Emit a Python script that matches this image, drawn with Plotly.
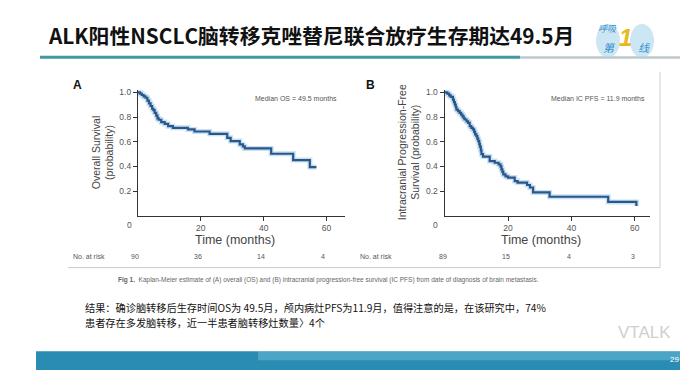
import plotly.graph_objects as go

# ---------------- data ----------------
os_time = [0, 0.6, 1.2, 1.8, 2.4, 3.0, 3.5, 4.0, 4.5, 4.9, 5.3, 5.8, 6.2, 6.6, 7.4, 8.5, 9.6,
           11.1, 15.9, 18.0, 22.8, 28.4, 29.5, 32.4, 33.4, 34.0, 42.4, 49.4, 54.7, 56.8]
os_surv = [1.0, 0.989, 0.978, 0.967, 0.956, 0.933, 0.911, 0.889, 0.867, 0.856, 0.834, 0.811,
           0.789, 0.778, 0.758, 0.744, 0.726, 0.713, 0.70, 0.683, 0.664, 0.632, 0.605, 0.578,
           0.562, 0.546, 0.503, 0.452, 0.395, 0.395]

pfs_time = [0, 0.8, 1.4, 1.9, 2.6, 2.9, 3.2, 3.5, 3.7, 4.2, 4.7, 5.2, 5.6, 6.0, 6.3, 6.9, 7.4,
            7.9, 8.4, 8.9, 9.3, 9.6, 10.0, 10.3, 10.6, 10.9, 11.1, 11.4, 11.6, 12.1, 14.2, 15.8,
            17.0, 17.6, 17.9, 18.2, 18.5, 19.2, 20.0, 22.1, 23.0, 26.0, 26.9, 27.9, 33.1, 51.6, 60.5]
pfs_surv = [1.0, 0.989, 0.975, 0.963, 0.94, 0.92, 0.90, 0.88, 0.86, 0.847, 0.834, 0.82, 0.806,
            0.79, 0.78, 0.765, 0.753, 0.726, 0.712, 0.70, 0.68, 0.66, 0.645, 0.625, 0.605, 0.583,
            0.56, 0.53, 0.50, 0.48, 0.444, 0.43, 0.417, 0.40, 0.376, 0.356, 0.336, 0.32, 0.31,
            0.282, 0.27, 0.25, 0.23, 0.19, 0.155, 0.113, 0.08]

risk_times = [0, 20, 40, 60]
os_at_risk = [90, 36, 14, 4]
pfs_at_risk = [89, 15, 4, 3]

x_ticks = [20, 40, 60]
y_ticks = [0.2, 0.4, 0.6, 0.8, 1.0]

title_text = "ALK阳性NSCLC脑转移克唑替尼联合放疗生存期达49.5月"
result_line1 = "结果：确诊脑转移后生存时间OS为 49.5月，颅内病灶PFS为11.9月，值得注意的是，在该研究中，74%"
result_line2 = "患者存在多发脑转移，近一半患者脑转移灶数量〉4个"
caption = ("<b>Fig 1.</b>  Kaplan-Meier estimate of (A) overall (OS) and (B) intracranial "
           "progression-free survival (IC PFS) from date of diagnosis of brain metastasis.")

# ---------------- layout helpers ----------------
W, H = 688, 378


def fx(p):
    return p / W


def fy(p):
    return 1 - p / H


CJK = "Noto Sans CJK SC"
NARROW = "Liberation Sans Narrow, Liberation Sans, Arial"
SANS = "Liberation Sans, Arial"

fig = go.Figure()

for t, s, xa, ya in [(os_time, os_surv, "x", "y"), (pfs_time, pfs_surv, "x2", "y2")]:
    fig.add_trace(go.Scatter(x=t, y=s, mode="lines", xaxis=xa, yaxis=ya,
                             line=dict(shape="hv", color="rgba(150,200,235,0.55)", width=5),
                             hoverinfo="skip", showlegend=False))
    fig.add_trace(go.Scatter(x=t, y=s, mode="lines", xaxis=xa, yaxis=ya,
                             line=dict(shape="hv", color="#2c5687", width=2.2),
                             showlegend=False))

xcommon = dict(showline=True, linecolor="#333", linewidth=1.3, tickvals=x_ticks,
               ticks="outside", ticklen=4, tickcolor="#333", tickwidth=1,
               tickfont=dict(size=8.5, color="#555", family=SANS),
               showgrid=False, zeroline=False, fixedrange=True)
ycommon = dict(showline=True, linecolor="#333", linewidth=1.3, tickvals=y_ticks,
               tickformat=".1f", ticks="outside", ticklen=4, tickcolor="#333", tickwidth=1,
               tickfont=dict(size=8.5, color="#555", family=SANS),
               showgrid=False, zeroline=False, fixedrange=True, range=[0, 1.022],
               domain=[fy(207), fy(80)])

fig.update_layout(
    width=W, height=H, autosize=False,
    margin=dict(l=0, r=0, t=0, b=0),
    paper_bgcolor="white", plot_bgcolor="white",
    xaxis=dict(domain=[fx(130), fx(337)], range=[0, 65.9], anchor="y", **xcommon),
    yaxis=dict(anchor="x", **ycommon),
    xaxis2=dict(domain=[fx(436.7), fx(641.7)], range=[0, 64.7], anchor="y2", **xcommon),
    yaxis2=dict(anchor="x2", **ycommon),
)

shapes = []
# title underline
shapes.append(dict(type="rect", xref="paper", yref="paper", x0=fx(32), x1=fx(512), y0=fy(49), y1=fy(46),
                   fillcolor="#3f98a3", line=dict(width=0)))
shapes.append(dict(type="rect", xref="paper", yref="paper", x0=fx(512), x1=fx(672), y0=fy(49), y1=fy(46.5),
                   fillcolor="#bcc8cc", line=dict(width=0)))
# figure frame
shapes.append(dict(type="line", xref="paper", yref="paper", x0=fx(652), x1=fx(652), y0=fy(259), y1=fy(62),
                   line=dict(color="#d0d0d0", width=1)))
shapes.append(dict(type="line", xref="paper", yref="paper", x0=fx(60), x1=fx(652), y0=fy(259), y1=fy(259),
                   line=dict(color="#c8c8c8", width=1)))
# footer band
shapes.append(dict(type="rect", xref="paper", yref="paper", x0=fx(28), x1=fx(688), y0=fy(362), y1=fy(343),
                   fillcolor="#2a8bb3", line=dict(width=0)))
shapes.append(dict(type="rect", xref="paper", yref="paper", x0=fx(250), x1=fx(688), y0=fy(352), y1=fy(343),
                   fillcolor="rgba(140,215,235,0.35)", line=dict(width=0)))
# logo blobs
shapes.append(dict(type="circle", xref="paper", yref="paper", x0=fx(588), x1=fx(612), y0=fy(48), y1=fy(14),
                   fillcolor="rgba(170,215,235,0.6)", line=dict(width=0)))
shapes.append(dict(type="circle", xref="paper", yref="paper", x0=fx(622), x1=fx(646), y0=fy(48), y1=fy(14),
                   fillcolor="rgba(170,215,235,0.6)", line=dict(width=0)))
fig.update_layout(shapes=shapes)

ann = []


def add(text, x, y, size, color="#333", family=SANS, xanchor="center", yanchor="middle", **kw):
    ann.append(dict(text=text, x=x, y=y, xref=kw.pop("xref", "paper"), yref=kw.pop("yref", "paper"),
                    showarrow=False, xanchor=xanchor, yanchor=yanchor,
                    font=dict(size=size, color=color, family=family), **kw))


# title
add("<b>" + title_text + "</b>", fx(38), fy(25), 20.8, "#111", CJK, xanchor="left")
# logo text
add("<i>呼吸</i>", fx(588), fy(19), 9, "#3a8fd0", CJK, xanchor="left")
add("<i>第</i>", fx(601), fy(37), 11, "#3a8fd0", CJK)
add("<i><b>1</b></i>", fx(617), fy(28), 24, "#e8b820", SANS)
add("<i>线</i>", fx(636), fy(37), 11, "#3a8fd0", CJK)

# panel letters
add("<b>A</b>", fx(69), fy(75), 12, "#111", SANS)
add("<b>B</b>", fx(362), fy(75), 12, "#111", SANS)

# y titles
add("Overall Survival<br>(probability)", fx(95), fy(143), 10.5, "#444", NARROW, textangle=-90)
add("Intracranial Progression-Free<br>Survival (probability)", fx(401), fy(143), 10.5, "#444", NARROW,
    textangle=-90)

# "0" tick labels (offset left of axis)
add("0", fx(121.7), fy(216), 8.5, "#555", SANS)
add("0", fx(427), fy(216), 8.5, "#555", SANS)

# x titles
add("Time (months)", fx(226.7), fy(231), 12.5, "#444", NARROW)
add("Time (months)", fx(533), fy(231), 12.5, "#444", NARROW)

# median text
add("Median OS = 49.5 months", fx(288), fy(89), 7, "#555", SANS)
add("Median IC PFS = 11.9 months", fx(590), fy(89), 7, "#555", SANS)

# numbers at risk
add("No. at risk", fx(63), fy(248), 7, "#555", SANS, xanchor="left")
add("No. at risk", fx(368), fy(248), 7, "#555", SANS, xanchor="center")
for t, n in zip(risk_times, os_at_risk):
    add(str(n), t, fy(248), 7, "#555", SANS, xref="x", xshift=-3)
for t, n in zip(risk_times, pfs_at_risk):
    add(str(n), t, fy(248), 7, "#555", SANS, xref="x2", xshift=-2)

# caption
add(caption, fx(320), fy(271), 6.5, "#666", SANS)

# result text
add(result_line1, fx(75), fy(299.5), 10.2, "#111", CJK, xanchor="left")
add(result_line2, fx(75), fy(314.5), 10.2, "#111", CJK, xanchor="left")

# watermark
add("VTALK", fx(636), fy(324), 17, "#cfcfcf", SANS)
# page number
add("29", fx(666), fy(351), 8, "white", SANS, xanchor="center")

fig.update_layout(annotations=ann)

fig.write_html("out.html")
